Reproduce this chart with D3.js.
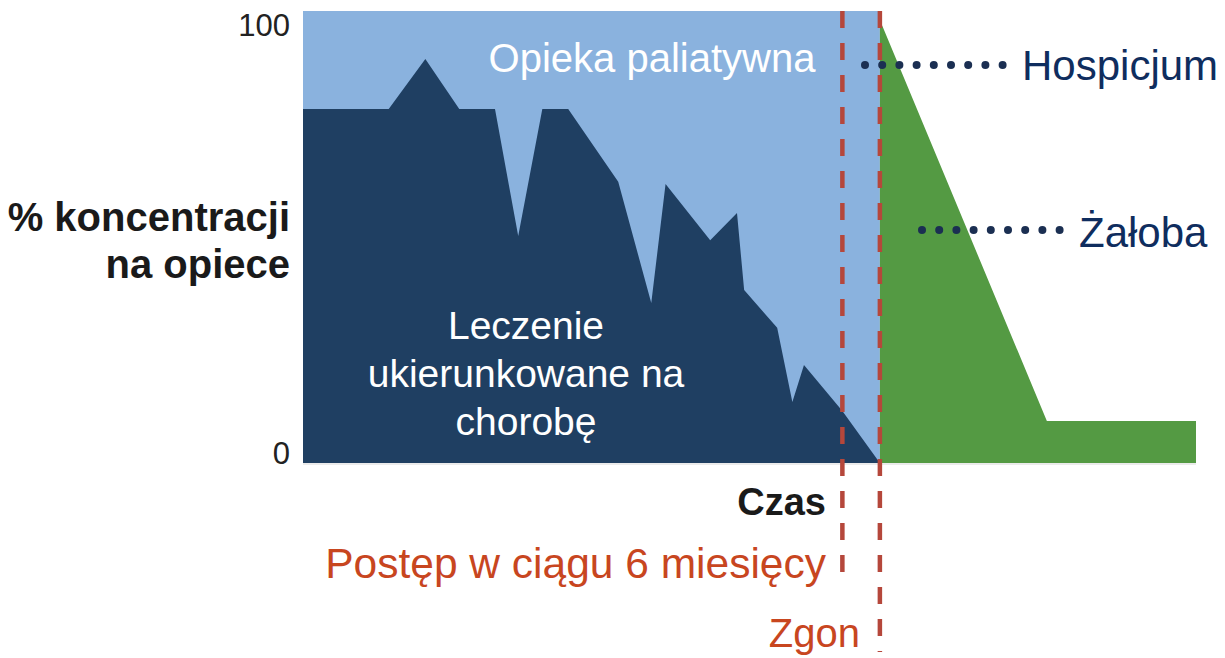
<!DOCTYPE html>
<html>
<head>
<meta charset="utf-8">
<script src="https://cdn.jsdelivr.net/npm/d3@7"></script>
<style>
  body { margin: 0; background: #fff; }
  svg { display: block; font-family: "Liberation Sans", Arial, sans-serif; }
</style>
</head>
<body>
<div id="chart"></div>
<script>
// time runs 0..100 across the plot, values are % of care focus
var diseaseTime  = [0, 9.6, 13.7, 17.5, 21.5, 24.1, 26.8, 29.7, 35.3, 39.0, 40.6, 45.6, 48.6, 49.4, 53.1, 54.8, 56.1, 60.4, 64.6];
var diseaseValue = [78.3, 78.3, 89.4, 78.3, 78.3, 50.2, 78.3, 78.3, 62.2, 35.4, 61.7, 49.3, 55.3, 38.3, 29.9, 13.5, 21.7, 11.5, 0];

var palliativeTime  = [0, 64.6];
var palliativeValue = [100, 100];

var griefTime  = [64.6, 83.3, 100];
var griefValue = [98, 9.3, 9.3];

var markerTime  = [60.4, 64.6];   // 6 months before death, death
var yTicks = [0, 100];

var width = 1225, height = 658;
var x = d3.scaleLinear().domain([0, 100]).range([303, 1196]);
var y = d3.scaleLinear().domain([0, 100]).range([463, 11]);

var svg = d3.select('#chart').append('svg')
    .attr('width', width)
    .attr('height', height);

var area = d3.area()
    .x(function(d){ return x(d[0]) })
    .y0(y(0))
    .y1(function(d){ return y(d[1]) });

svg.append('path')
    .attr('d', area(d3.zip(palliativeTime, palliativeValue)))
    .style('fill', '#8ab2de');

svg.append('path')
    .attr('d', area(d3.zip(diseaseTime, diseaseValue)))
    .style('fill', '#1f3f62');

svg.append('path')
    .attr('d', area(d3.zip(griefTime, griefValue)))
    .style('fill', '#549a43');

// thin base line
svg.append('line')
    .attr('x1', x(0)).attr('x2', x(100))
    .attr('y1', y(0) + 1).attr('y2', y(0) + 1)
    .attr('stroke', '#e4e4e4').attr('stroke-width', 1.5);

// dashed marker lines
var markerEnd = [583, 652];
svg.selectAll('.marker').data(markerTime).enter().append('line')
    .attr('class', 'marker')
    .attr('x1', function(d){ return x(d) })
    .attr('x2', function(d){ return x(d) })
    .attr('y1', y(100))
    .attr('y2', function(d, i){ return markerEnd[i] })
    .attr('stroke', '#b5473b')
    .attr('stroke-width', 4.5)
    .attr('stroke-dasharray', '17,15');

// y axis: labels only
var yAxis = svg.append('g')
    .attr('transform', 'translate(' + x(0) + ',0)')
    .call(d3.axisLeft(y).tickValues(yTicks).tickSize(0).tickPadding(13));
yAxis.select('.domain').remove();
yAxis.selectAll('text')
    .style('font-family', '"Liberation Sans", Arial, sans-serif')
    .style('font-size', '31px')
    .style('fill', '#222')
    .attr('dy', function(d){ return d === 100 ? '24px' : '0px' });

// axis titles
var yTitle = svg.append('text')
    .attr('text-anchor', 'end')
    .style('font-size', '40px')
    .style('font-weight', 'bold')
    .style('fill', '#1a1a1a');
yTitle.append('tspan').attr('x', 290).attr('y', 231).text('% koncentracji');
yTitle.append('tspan').attr('x', 290).attr('y', 278).text('na opiece');

svg.append('text')
    .attr('x', 826).attr('y', 515)
    .attr('text-anchor', 'end')
    .style('font-size', '38px')
    .style('font-weight', 'bold')
    .style('fill', '#1a1a1a')
    .text('Czas');

svg.append('text')
    .attr('x', 826).attr('y', 578)
    .attr('text-anchor', 'end')
    .style('font-size', '42.5px')
    .style('fill', '#c8461f')
    .text('Postęp w ciągu 6 miesięcy');

svg.append('text')
    .attr('x', 860).attr('y', 647)
    .attr('text-anchor', 'end')
    .style('font-size', '40px')
    .style('fill', '#c8461f')
    .text('Zgon');

// area labels
svg.append('text')
    .attr('x', 652).attr('y', 72)
    .attr('text-anchor', 'middle')
    .style('font-size', '40px')
    .style('fill', '#fff')
    .text('Opieka paliatywna');

var treat = svg.append('text')
    .attr('text-anchor', 'middle')
    .style('font-size', '39px')
    .style('fill', '#fff');
['Leczenie', 'ukierunkowane na', 'chorobę'].forEach(function(t, i){
    treat.append('tspan').attr('x', 526).attr('y', 339 + i * 48).text(t);
});

// dotted leaders
function dots(x1, yPos, n){
    svg.append('g').selectAll('circle').data(d3.range(n)).enter().append('circle')
        .attr('cx', function(d){ return x1 + d * 17.2 })
        .attr('cy', yPos)
        .attr('r', 4)
        .style('fill', '#1b2f52');
}
dots(865, 65, 9);
dots(922, 230, 9);

svg.append('text')
    .attr('x', 1022).attr('y', 80)
    .style('font-size', '42px')
    .style('fill', '#0f2d5e')
    .text('Hospicjum');

svg.append('text')
    .attr('x', 1079).attr('y', 247)
    .style('font-size', '42px')
    .style('fill', '#0f2d5e')
    .text('Żałoba');
</script>
</body>
</html>
